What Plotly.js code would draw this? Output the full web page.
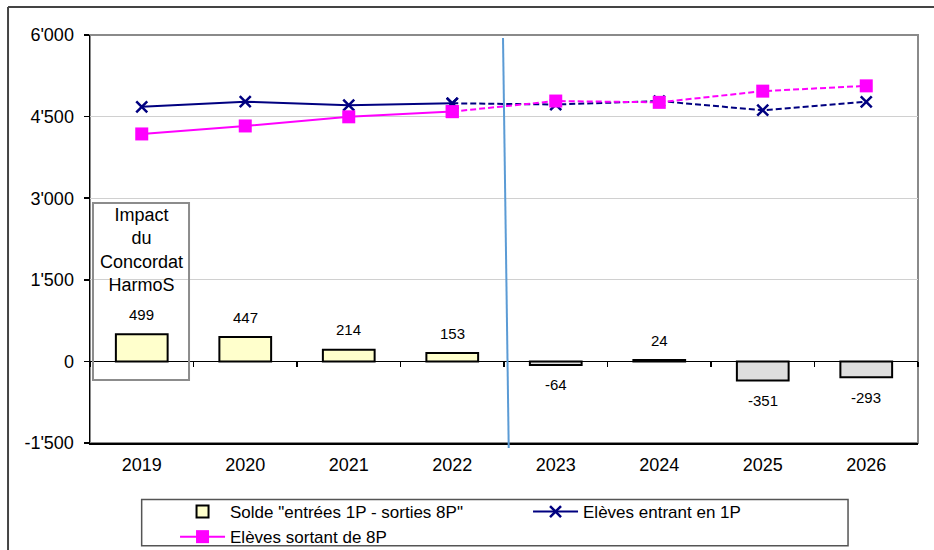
<!DOCTYPE html>
<html>
<head>
<meta charset="utf-8">
<script src="https://cdn.plot.ly/plotly-3.0.1.min.js"></script>
<style>html,body{margin:0;padding:0;background:#fff;}#chart{width:934px;height:550px;}</style>
</head>
<body>
<div id="chart"></div>
<script>
// ---- data ----
const years = ['2019', '2020', '2021', '2022', '2023', '2024', '2025', '2026'];
const solde = [499, 447, 214, 153, -64, 24, -351, -293];
const entrants = [4680, 4775, 4710, 4745, 4722, 4786, 4617, 4772];
const sortants = [4181, 4328, 4496, 4592, 4786, 4762, 4968, 5065];
const yTickVals = [-1500, 0, 1500, 3000, 4500, 6000];
const yTickText = ["-1'500", "0", "1'500", "3'000", "4'500", "6'000"];
const names = ['Solde "entrées 1P - sorties 8P"', 'Elèves entrant en 1P', 'Elèves sortant de 8P'];
const lastObserved = 3; // index of 2022: solid up to here, dashed afterwards
const impactText = 'Impact<br>du<br>Concordat<br>HarmoS';

const FONT = '"Liberation Sans", Arial, sans-serif';
const navy = '#000080', pink = '#FF00FF';

const solidX = years.slice(0, lastObserved + 1);
const dashX = years.slice(lastObserved);

const traces = [
  {
    type: 'bar', x: years, y: solde, name: names[0], width: 0.5,
    marker: {
      color: solde.map(v => v >= 0 ? '#FFFFCC' : '#DEDEDE'),
      line: {color: '#000', width: 2}
    }
  },
  {
    type: 'scatter', mode: 'lines+markers', x: solidX, y: entrants.slice(0, lastObserved + 1), name: names[1],
    line: {color: navy, width: 2}, marker: {symbol: 'x-thin-open', size: 11, color: navy, line: {color: navy, width: 2.5}}
  },
  {
    type: 'scatter', mode: 'lines+markers', x: solidX, y: sortants.slice(0, lastObserved + 1), name: names[2],
    line: {color: pink, width: 2}, marker: {symbol: 'square', size: 13, color: pink}
  },
  {
    type: 'scatter', mode: 'lines+markers', x: dashX, y: entrants.slice(lastObserved), showlegend: false,
    line: {color: navy, width: 2, dash: '6px,3px'}, marker: {symbol: 'x-thin-open', size: 11, color: navy, line: {color: navy, width: 2.5}}
  },
  {
    type: 'scatter', mode: 'lines+markers', x: dashX, y: sortants.slice(lastObserved), showlegend: false,
    line: {color: pink, width: 2, dash: '6px,3px'}, marker: {symbol: 'square', size: 13, color: pink}
  },
  {
    // carrier for the category tick marks drawn on the zero line
    type: 'scatter', mode: 'markers', x: years, y: solde, xaxis: 'x2', showlegend: false,
    marker: {opacity: 0}, hoverinfo: 'skip'
  }
];

const annotations = solde.map((v, i) => ({
  x: i, y: v, xref: 'x', yref: 'y', text: String(v), showarrow: false,
  yanchor: 'middle', yshift: v >= 0 ? 20 : -20,
  font: {family: FONT, size: 15, color: '#000'}
}));
annotations.push({
  x: 0, y: 2046, xref: 'x', yref: 'y', text: impactText, showarrow: false,
  yanchor: 'middle', font: {family: FONT, size: 18, color: '#000'}
});

const shapes = [
  // plot area border (top/right visible in grey)
  {type: 'rect', xref: 'paper', yref: 'paper', x0: 0, x1: 1, y0: 0, y1: 1, line: {color: '#8a8a8a', width: 2}, layer: 'below'},
  // outer frame (top + left)
  {type: 'line', xref: 'paper', yref: 'paper', x0: -0.099, x1: 1.02, y0: 1.0686, y1: 1.0686, line: {color: '#444', width: 2}},
  {type: 'line', xref: 'paper', yref: 'paper', x0: -0.099, x1: -0.099, y0: 1.0686, y1: -0.27, line: {color: '#444', width: 2}},
  // separation line observed / forecast
  {type: 'line', xref: 'paper', yref: 'paper', x0: 0.4988, x1: 0.5057, y0: 0.9926, y1: -0.012, line: {color: '#5B9BD5', width: 2}},
  // box around the HarmoS note
  {type: 'rect', xref: 'paper', yref: 'paper', x0: 0.0036, x1: 0.1196, y0: 0.1544, y1: 0.588, line: {color: '#8c8c8c', width: 2}},
  // legend frame
  {type: 'rect', xref: 'paper', yref: 'paper', x0: 0.0624, x1: 0.9155, y0: -0.1385, y1: -0.2517, line: {color: '#555', width: 1.5}}
];

const layout = {
  width: 934, height: 550,
  margin: {l: 90, r: 16, t: 35, b: 107, autoexpand: false},
  paper_bgcolor: '#fff', plot_bgcolor: '#fff',
  font: {family: FONT, size: 17, color: '#000'},
  showlegend: true,
  xaxis: {
    type: 'category', categoryarray: years, range: [-0.5, 7.5],
    showline: true, linecolor: '#000', linewidth: 1.5, ticks: '', showgrid: false, zeroline: false,
    tickfont: {family: FONT, size: 18, color: '#000'}, ticklabelstandoff: 5
  },
  xaxis2: {
    type: 'category', categoryarray: years, range: [-0.5, 7.5], overlaying: 'x', anchor: 'free', position: 0.2,
    showticklabels: false, ticks: 'outside', tickson: 'boundaries', ticklen: 5, tickwidth: 1.5, tickcolor: '#000',
    showline: false, showgrid: false, zeroline: false
  },
  yaxis: {
    range: [-1500, 6000], tickvals: yTickVals, ticktext: yTickText,
    showline: true, linecolor: '#000', linewidth: 1.5, ticks: 'outside', ticklen: 5, tickwidth: 1.5, tickcolor: '#000',
    showgrid: true, gridcolor: '#D0D0D0', gridwidth: 1,
    zeroline: true, zerolinecolor: '#000', zerolinewidth: 1.5,
    tickfont: {family: FONT, size: 18, color: '#000'}, ticklabelstandoff: 6
  },
  legend: {
    orientation: 'h', x: 0.1027, xanchor: 'left', y: -0.125, yanchor: 'top',
    bgcolor: 'rgba(0,0,0,0)', borderwidth: 0,
    entrywidth: 293, entrywidthmode: 'pixels', itemwidth: 45,
    font: {family: FONT, size: 17, color: '#000'}, traceorder: 'normal'
  },
  annotations: annotations,
  shapes: shapes
};

Plotly.newPlot('chart', traces, layout, {displayModeBar: false, staticPlot: true});
</script>
</body>
</html>
